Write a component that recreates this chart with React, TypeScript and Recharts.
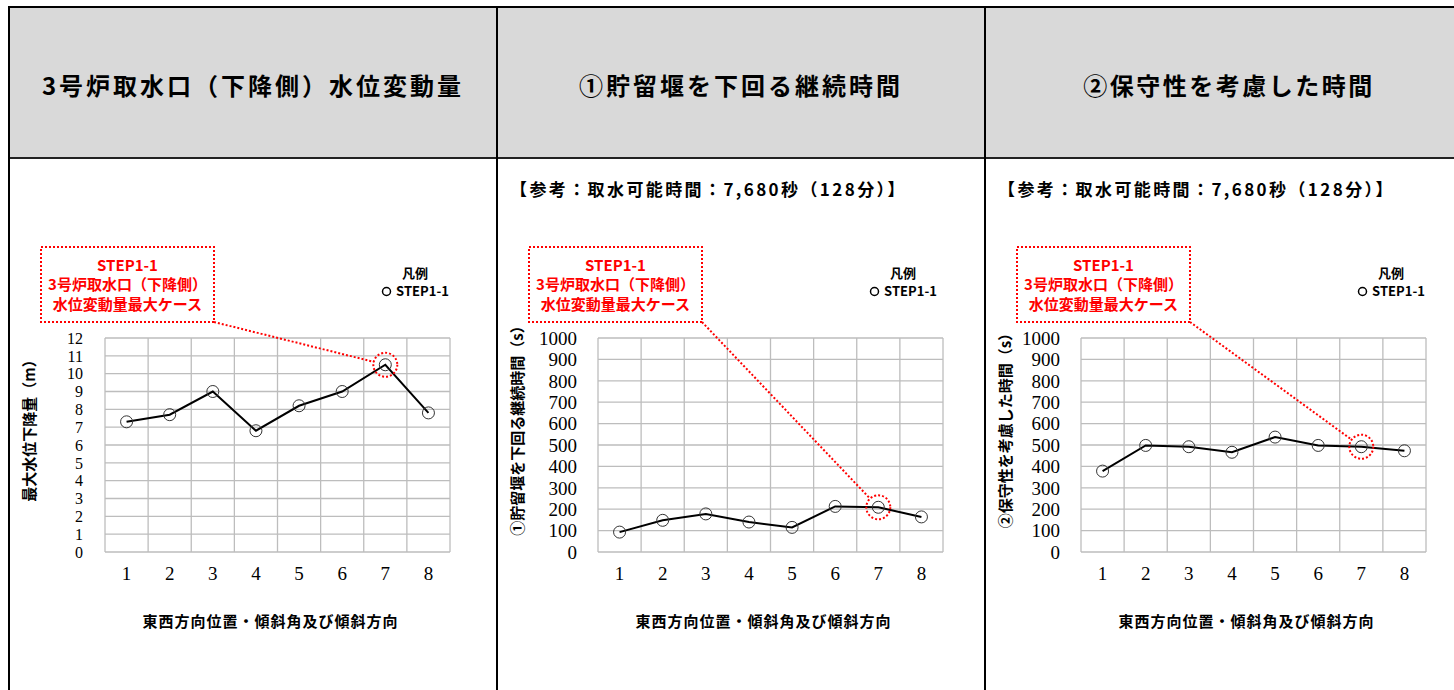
import { LineChart, Line, XAxis, YAxis, CartesianGrid, ReferenceLine, ReferenceDot, Label } from "recharts";

// 東西方向位置・傾斜角及び傾斜方向 (ケース番号)
const positions = [1, 2, 3, 4, 5, 6, 7, 8];
// 最大水位下降量 (m)
const dropValues = [7.3, 7.7, 9.0, 6.8, 8.2, 9.0, 10.5, 7.8];
// ①貯留堰を下回る継続時間 (s)
const belowWeirSeconds = [93, 148, 178, 140, 115, 213, 209, 164];
// ②保守性を考慮した時間 (s)
const conservativeSeconds = [378, 498, 492, 466, 537, 498, 492, 473];

const dropTicks = [0, 1, 2, 3, 4, 5, 6, 7, 8, 9, 10, 11, 12];
const secondTicks = [0, 100, 200, 300, 400, 500, 600, 700, 800, 900, 1000];
const maxCase = 7;
const seriesName = "STEP1-1";
const calloutLines = ["STEP1-1", "3号炉取水口（下降側）", "水位変動量最大ケース"];
const headers = ["3号炉取水口（下降側）水位変動量", "①貯留堰を下回る継続時間", "②保守性を考慮した時間"];
const noteText = "【参考：取水可能時間：7,680秒（128分）】";
const xTitle = "東西方向位置・傾斜角及び傾斜方向";

const JP = '"Noto Sans CJK JP", "Noto Sans", sans-serif';
const SERIF = '"Liberation Serif", "DejaVu Serif", serif';
const RED = "#ff0000";
const GRID = "#bdbdbd";

const boundaries = [positions[0] - 0.5, ...positions.map((p) => p + 0.5)];

// callout box, in chart coordinates
const BOX = { x: 32, y: 17, w: 173, h: 75 };

const Callout = (props: any) => {
  const { cx, cy } = props;
  const r = 12;
  const x1 = BOX.x + BOX.w;
  const y1 = BOX.y + BOX.h;
  const dx = cx - x1;
  const dy = cy - y1;
  const len = Math.sqrt(dx * dx + dy * dy);
  const x2 = cx - (dx / len) * r;
  const y2 = cy - (dy / len) * r;
  return (
    <g>
      <line x1={x1} y1={y1} x2={x2} y2={y2} stroke={RED} strokeWidth={2} strokeDasharray="2 2" />
      <circle cx={cx} cy={cy} r={r} fill="none" stroke={RED} strokeWidth={2} strokeDasharray="2 2" />
      <rect x={BOX.x} y={BOX.y} width={BOX.w} height={BOX.h} fill="#fff" stroke={RED} strokeWidth={2} strokeDasharray="2 2" />
      {calloutLines.map((t, i) => (
        <text
          key={t}
          x={BOX.x + BOX.w / 2}
          y={BOX.y + 17 + i * 19.5}
          textAnchor="middle"
          dominantBaseline="central"
          fontFamily={JP}
          fontWeight={700}
          fontSize={15}
          fill={RED}
        >
          {t}
        </text>
      ))}
    </g>
  );
};

interface PanelProps {
  values: number[];
  ticks: number[];
  yTitle: string;
  width: number;
  yWidth: number;
  right: number;
  tickMargin: number;
  tickSize: number;
}

const Panel = ({ values, ticks, yTitle, width, yWidth, right, tickMargin, tickSize }: PanelProps) => {
  const data = positions.map((p, i) => ({ pos: p, value: values[i] }));
  const top = ticks[ticks.length - 1];
  return (
    <LineChart width={width} height={460} data={data} margin={{ top: 108, right, bottom: 58, left: 0 }}>
      <CartesianGrid vertical={false} stroke={GRID} strokeWidth={1.3} />
      {boundaries.map((b) => (
        <ReferenceLine key={b} x={b} stroke={GRID} strokeWidth={1.3} />
      ))}
      <XAxis
        dataKey="pos"
        type="number"
        domain={[boundaries[0], boundaries[boundaries.length - 1]]}
        ticks={positions}
        interval={0}
        height={80}
        tickLine={false}
        axisLine={false}
        tickMargin={9}
        tick={{ fontFamily: SERIF, fontSize: 19, fill: "#000" }}
      >
        <Label
          content={({ viewBox }: any) => (
            <text
              x={viewBox.x + viewBox.width / 2 - 7}
              y={viewBox.y + 68}
              textAnchor="middle"
              dominantBaseline="central"
              fontFamily={JP}
              fontWeight={700}
              fontSize={15}
              letterSpacing={1}
              fill="#000"
            >
              {xTitle}
            </text>
          )}
        />
      </XAxis>
      <YAxis
        type="number"
        domain={[0, top]}
        ticks={ticks}
        interval={0}
        width={yWidth}
        tickLine={false}
        axisLine={false}
        tickMargin={tickMargin}
        tick={{ fontFamily: SERIF, fontSize: tickSize, fill: "#000" }}
      >
        <Label
          content={({ viewBox }: any) => {
            const x = viewBox.x + 19;
            const y = viewBox.y + viewBox.height / 2 - 18;
            return (
              <text
                x={x}
                y={y}
                transform={`rotate(-90 ${x} ${y})`}
                textAnchor="middle"
                dominantBaseline="central"
                fontFamily={JP}
                fontWeight={700}
                fontSize={15}
                fill="#000"
              >
                {yTitle}
              </text>
            );
          }}
        />
      </YAxis>
      <Line
        type="linear"
        dataKey="value"
        stroke="#000"
        strokeWidth={2}
        dot={{ r: 6, fill: "none", stroke: "#333", strokeWidth: 1 }}
        isAnimationActive={false}
      />
      <ReferenceDot x={maxCase} y={values[positions.indexOf(maxCase)]} r={12} shape={Callout} />
    </LineChart>
  );
};

const COLS = [8, 496, 984];
const COL_W = 488;

const panels = [
  { values: dropValues, ticks: dropTicks, yTitle: "最大水位下降量（m）", yWidth: 96, right: 46, tickMargin: 16, tickSize: 16, note: false, spacing: 3 },
  { values: belowWeirSeconds, ticks: secondTicks, yTitle: "①貯留堰を下回る継続時間（s）", yWidth: 101, right: 41, tickMargin: 15, tickSize: 19, note: true, spacing: 3 },
  { values: conservativeSeconds, ticks: secondTicks, yTitle: "②保守性を考慮した時間（s）", yWidth: 96, right: 46, tickMargin: 15, tickSize: 19, note: true, spacing: 2.5 },
];

export default function App() {
  return (
    <div style={{ position: "absolute", left: 0, top: 0, width: 1454, height: 690, overflow: "hidden", background: "#fff" }}>
      {COLS.map((left, i) => (
        <div key={left} style={{ position: "absolute", left, top: 6, width: COL_W, height: 700, borderLeft: "2px solid #000", borderTop: "2px solid #000", boxSizing: "border-box" }}>
          <div
            style={{
              height: 151,
              paddingTop: 4,
              background: "#d9d9d9",
              borderBottom: "2.5px solid #222",
              boxSizing: "border-box",
              display: "flex",
              alignItems: "center",
              justifyContent: "center",
              fontFamily: JP,
              fontWeight: 700,
              fontSize: 24,
              letterSpacing: panels[i].spacing,
              color: "#000",
            }}
          >
            {headers[i]}
          </div>
          {panels[i].note && (
            <div style={{ position: "absolute", left: 12, top: 168, fontFamily: JP, fontWeight: 700, fontSize: 17, letterSpacing: 2.4, color: "#000", whiteSpace: "nowrap" }}>
              {noteText}
            </div>
          )}
          <div style={{ position: "absolute", left: 365, top: 256, width: 80, textAlign: "center", fontFamily: JP, fontWeight: 700, fontSize: 13, lineHeight: "18px", color: "#000" }}>
            <div>凡例</div>
            <div style={{ whiteSpace: "nowrap" }}>
              <svg width={11} height={11} style={{ verticalAlign: "-1px", marginRight: 4 }}>
                <circle cx={5.5} cy={5.5} r={4} fill="none" stroke="#000" strokeWidth={1.5} />
              </svg>
              {seriesName}
            </div>
          </div>
          <div style={{ position: "absolute", left: -1, top: 222 }}>
            <Panel
              values={panels[i].values}
              ticks={panels[i].ticks}
              yTitle={panels[i].yTitle}
              width={COL_W - 1}
              yWidth={panels[i].yWidth}
              right={panels[i].right}
              tickMargin={panels[i].tickMargin}
              tickSize={panels[i].tickSize}
            />
          </div>
        </div>
      ))}
    </div>
  );
}
